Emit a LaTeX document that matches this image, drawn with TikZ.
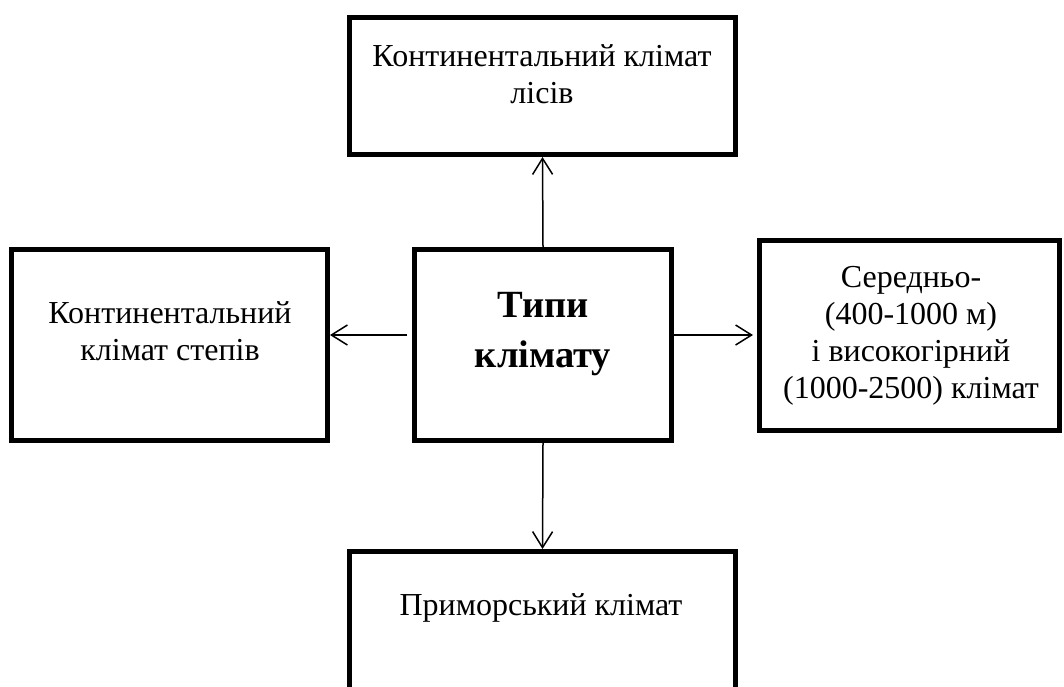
\documentclass[tikz,border=0pt]{standalone}
\usepackage{fontspec}
\setmainfont{Liberation Serif}
\usetikzlibrary{arrows.meta}
\tikzset{
        box/.style={draw,line width=5pt,inner sep=0pt},
        txt/.style={align=center,anchor=base,font=\fontsize{32}{37}\selectfont},
        arr/.style={-{Straight Barb[length=16pt,width=20pt]},line width=1.5pt}
}
\begin{document}
\begin{tikzpicture}[x=1pt,y=-1pt]
        \useasboundingbox(0,0)rectangle(1064,686);
        \clip(0,0)rectangle(1064,686);
        \node[box,minimum width=386pt,minimum height=137pt](forest)at(542.5,86){};
        \node[box,minimum width=316pt,minimum height=191pt](steppe)at(169.5,345){};
        \node[box,minimum width=257pt,minimum height=191pt](types)at(543,345){};
        \node[box,minimum width=300pt,minimum height=190pt](mountain)at(909.5,335.5){};
        \node[box,minimum width=386pt,minimum height=177pt](coast)at(542.5,640){};
        % text sits on the baseline of its last line
        \node[txt](forestlbl)at(542,103){Континентальний клімат\\лісів};
        \node[txt](steppelbl)at(170,360){Континентальний\\клімат степів};
        \node[txt,font=\fontsize{38.5}{50}\selectfont\bfseries](typeslbl)at(543,367){Типи\\клімату};
        \node[txt](mountainlbl)at(911,398){Середньо-\\(400-1000 м)\\і високогірний\\(1000-2500) клімат};
        \node[txt](coastlbl)at(541,615){Приморський клімат};
        \coordinate(mid)at(0,335);
        \draw[arr](types.north)--(forest.south);
        \draw[arr](types.south)--(coast.north);
        \draw[arr]([xshift=-5pt]types.west|-mid)--(steppe.east|-mid);
        \draw[arr](types.east|-mid)--([xshift=-4pt]mountain.west|-mid);
\end{tikzpicture}
\end{document}
